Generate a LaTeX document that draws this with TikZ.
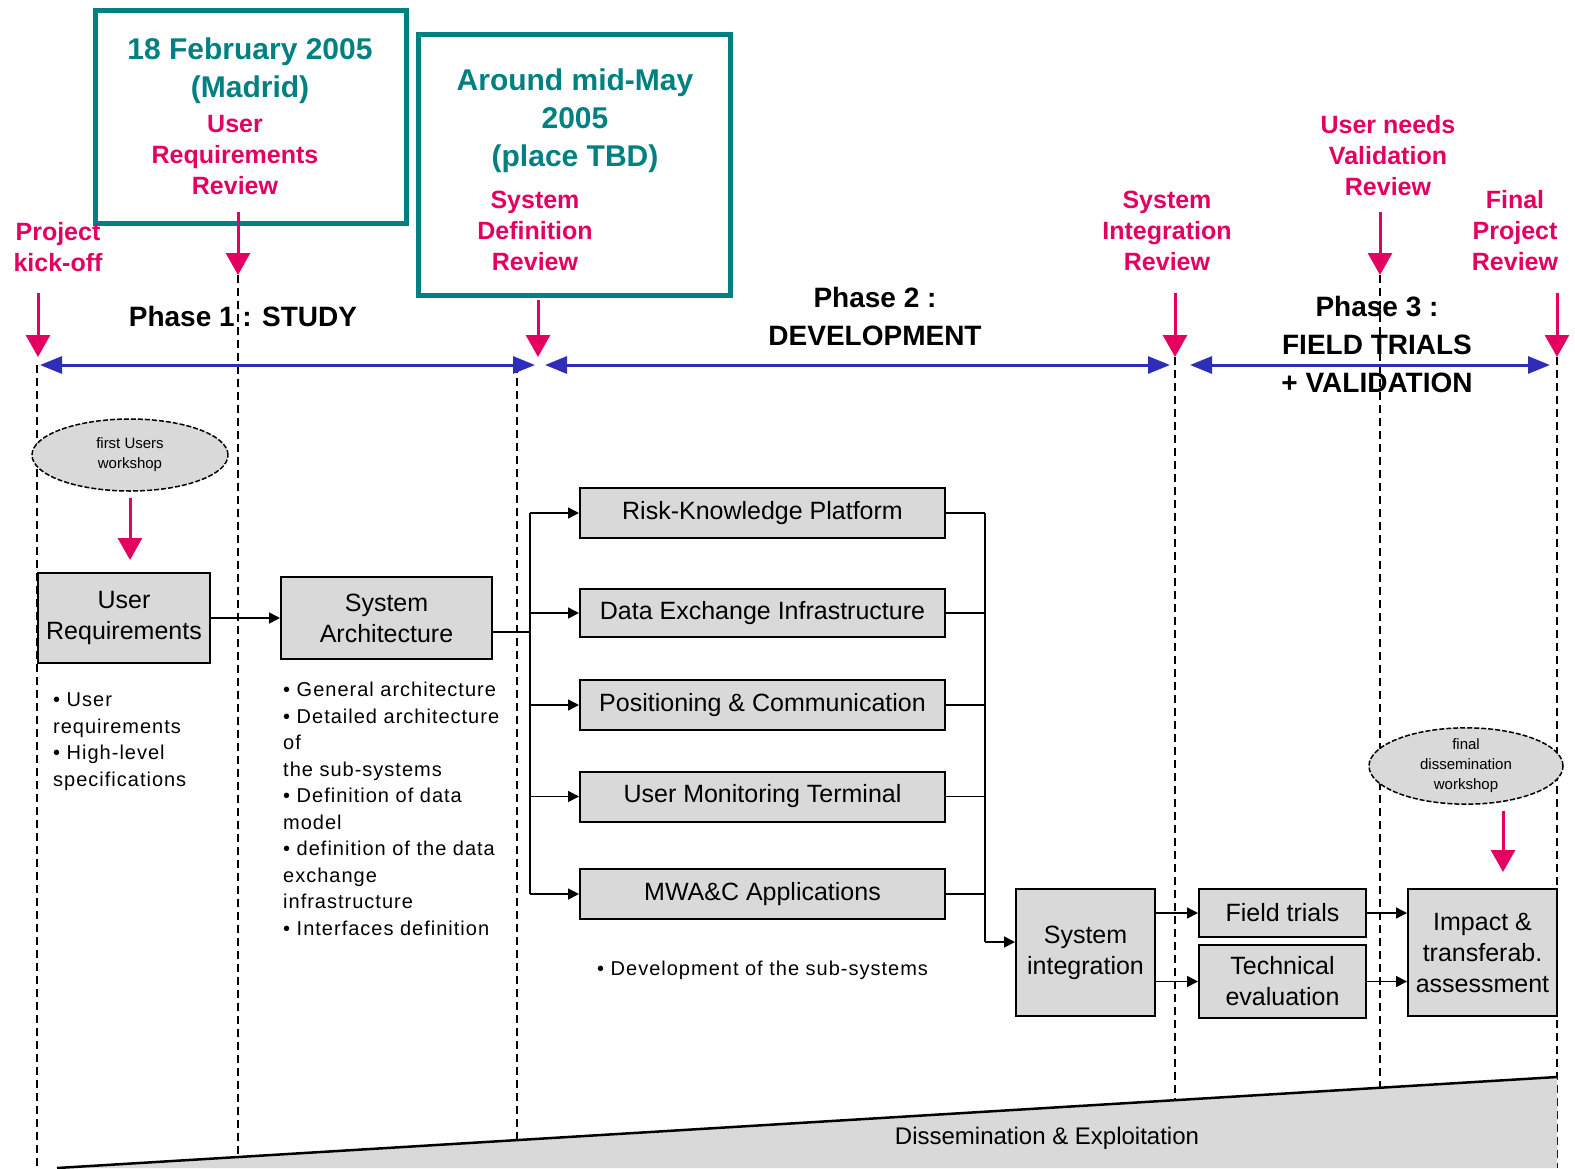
\documentclass[tikz,border=0pt]{standalone}
\usepackage{fontspec}
\setmainfont{Liberation Sans}
\newfontfamily\notefont[LetterSpace=5]{Liberation Sans}
\usetikzlibrary{positioning,arrows.meta,shapes.geometric}
\definecolor{tealbox}{RGB}{0,128,128}
\definecolor{pinkred}{RGB}{228,0,96}
\definecolor{phaseblue}{RGB}{45,45,185}
\definecolor{boxgray}{RGB}{217,217,217}

\begin{document}
\begin{tikzpicture}[x=1pt,y=-1pt,
		datebox/.style={draw=tealbox,line width=5pt,inner sep=0pt},
		datetext/.style={text=tealbox,font=\bfseries\fontsize{30}{38}\selectfont,align=center},
		review/.style={text=pinkred,font=\bfseries\fontsize{25}{31}\selectfont,align=center},
		phase/.style={font=\bfseries\fontsize{28}{38}\selectfont,align=center},
		milestone/.style={draw=pinkred,line width=3pt,-{Triangle[width=24pt,length=22pt]}},
		span/.style={draw=phaseblue,line width=3pt,{Triangle[width=17pt,length=22pt]}-{Triangle[width=17pt,length=22pt]}},
		limit/.style={dash pattern=on 8pt off 5pt,line width=1.3pt},
		task/.style={draw=black,line width=2pt,fill=boxgray,font=\fontsize{25}{31}\selectfont,align=center,inner sep=0pt},
		notes/.style={font=\notefont\fontsize{20}{26.5}\selectfont,align=left,inner sep=0pt},
		workshop/.style={ellipse,draw,dash pattern=on 5pt off 2pt,line width=1.5pt,fill=boxgray,inner sep=0pt,font=\fontsize{15}{20}\selectfont,align=center},
		link/.style={line width=1.5pt,-{Triangle[width=11pt,length=11pt]}},
		bus/.style={line width=1.5pt}]
		\useasboundingbox (0,0) rectangle (1575,1168);
		
		% phase limits
		\foreach \x/\t in {37/365,238/275,517/365,1175/357,1380/275,1557/357}
		\draw[limit] (\x,\t) -- (\x,1168);
		
		% dissemination wedge
		\coordinate (dstart) at (57,1168);
		\coordinate (dend) at (1557,1077);
		\fill[boxgray] (dstart) -- (dend) -- (1557,1168) -- cycle;
		\draw[line width=2.5pt] (dstart) -- (dend);
		\node[font=\fontsize{24}{30}\selectfont] (dissem) at (1047,1138) {Dissemination \& Exploitation};
		
		% review dates
		\node[datebox,minimum width=311,minimum height=213] (feb) at (250.5,116.5) {};
		\node[datebox,minimum width=312,minimum height=261] (may) at (574,164.5) {};
		\node[datetext] (febdate) at (250,71) {18 February 2005\\(Madrid)};
		\node[datetext] (maydate) at (575,121) {Around mid-May\\2005\\(place TBD)};
		
		% reviews
		\node[review] (kickoff) at (58,247) {Project\\kick-off};
		\node[review] (urr) at (235,155) {User\\Requirements\\Review};
		\node[review] (sdr) at (535,231) {System\\Definition\\Review};
		\node[review] (sir) at (1167,231) {System\\Integration\\Review};
		\node[review] (uvr) at (1388,156) {User needs\\Validation\\Review};
		\node[review] (fpr) at (1515,231) {Final\\Project\\Review};
		
		\foreach \x/\t/\b [count=\i] in {38/293/357,238/212/275,538/300/357,1175/293/357,1380/212/275,1557/293/357}{
			\coordinate (mtop\i) at (\x,\t);
			\coordinate (mbot\i) at (\x,\b);
			\draw[milestone] (mtop\i) -- (mbot\i);
		}
		
		% phases
		\foreach \a/\b [count=\i] in {40/535,545/1170,1190/1550}{
			\coordinate (pstart\i) at (\a,365);
			\coordinate (pend\i) at (\b,365);
			\draw[span] (pstart\i) -- (pend\i);
		}
		\node[phase] (ph1) at (243,316) {Phase 1 : STUDY};
		\node[phase] (ph2) at (875,316) {Phase 2 :\\DEVELOPMENT};
		\node[phase] (ph3) at (1377,344) {Phase 3 :\\FIELD TRIALS\\+ VALIDATION};
		
		% tasks
		\node[workshop,minimum width=196,minimum height=72] (ws1) at (130,455) {first Users\\workshop};
		\node[workshop,minimum width=194,minimum height=72] (ws2) at (1466,766) {final\\dissemination\\workshop};
		
		\node[task,minimum width=172,minimum height=90] (ur) at (124,618) {User\\Requirements};
		\node[task,minimum width=211,minimum height=82] (sa) at (386.5,618) {System\\Architecture};
		
		\node[task,minimum width=365,minimum height=50] (rkp) at (762.5,513) {Risk-Knowledge Platform};
		\node[task,minimum width=365,minimum height=48] (dei) at (762.5,613) {Data Exchange Infrastructure};
		\node[task,minimum width=365,minimum height=50] (pc) at (762.5,705) {Positioning \& Communication};
		\node[task,minimum width=365,minimum height=50] (umt) at (762.5,796.5) {User Monitoring Terminal};
		\node[task,minimum width=365,minimum height=50] (mwa) at (762.5,894) {MWA\&C Applications};
		
		\node[task,minimum width=139,minimum height=127] (si) at (1085.5,952.5) {System\\integration};
		\node[task,minimum width=167,minimum height=48] (ft) at (1282.5,913) {Field trials};
		\node[task,minimum width=167,minimum height=73,below=6pt of ft] (te) {Technical\\evaluation};
		\node[task,minimum width=149,minimum height=127] (impact) at (1482.5,952.5) {Impact \&\\transferab.\\assessment};
		
		\node[notes,anchor=north west] (urnotes) at (53,693) {• User\\requirements\\• High-level\\specifications};
		\node[notes,anchor=north west] (sanotes) at (283,682) {• General architecture\\• Detailed architecture\\of\\the sub-systems\\• Definition of data\\model\\• definition of the data\\exchange\\infrastructure\\• Interfaces definition};
		\node[notes,anchor=west] (devnotes) at (597,970) {• Development of the sub-systems};
		
		% connectors
		\draw[milestone,shorten <=6pt,shorten >=12pt] (ws1.south) -- (ws1.south |- ur.north);
		\draw[milestone,shorten <=6pt,shorten >=16pt] ([xshift=37pt]ws2.south) -- ([xshift=37pt]ws2.south |- impact.north);
		
		\draw[link] (ur.east) -- (sa.west);
		\coordinate (busin) at (530,632);
		\coordinate (busout) at (985,942);
		\draw[bus] (sa.east |- busin) -- (busin);
		\draw[bus] (busin |- rkp) -- (busin |- mwa);
		\draw[bus] (busout |- rkp) -- (busout);
		\foreach \b in {rkp,dei,pc,umt,mwa}{
			\draw[link] (busin |- \b) -- (\b.west);
			\draw[bus] (\b.east) -- (busout |- \b);
		}
		\draw[link] (busout) -- (si.west |- busout);
		\draw[link] (si.east |- ft) -- (ft.west);
		\draw[link] (si.east |- te) -- (te.west);
		\draw[link] (ft.east) -- (impact.west |- ft);
		\draw[link] (te.east) -- (impact.west |- te);
	\end{tikzpicture}
\end{document}
